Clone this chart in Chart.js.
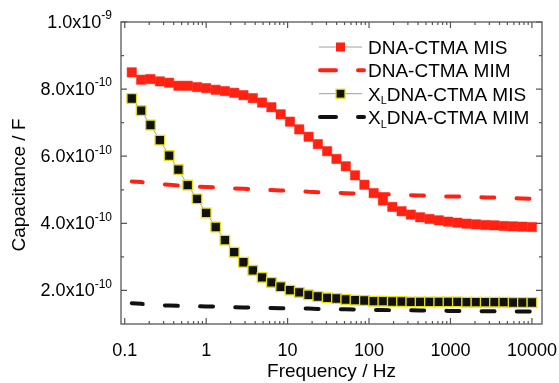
<!DOCTYPE html>
<html>
<head>
<meta charset="utf-8">
<script src="https://cdn.jsdelivr.net/npm/chart.js@4.4.1/dist/chart.umd.min.js"></script>
<style>
  html, body { margin: 0; padding: 0; background: #fff; }
  #wrap { width: 559px; height: 383px; }
</style>
</head>
<body>
<div id="wrap"><canvas id="chart" width="559" height="383"></canvas></div>
<script>
// measurement frequencies (Hz)
const freqs = [0.122, 0.159, 0.207, 0.270, 0.351, 0.456, 0.593, 0.772, 1.00, 1.31,
  1.70, 2.21, 2.87, 3.74, 4.86, 6.32, 8.22, 10.7, 13.9, 18.1,
  23.5, 30.6, 39.8, 51.8, 67.3, 87.7, 114, 148, 193, 251,
  326, 424, 552, 718, 933, 1214, 1579, 2054, 2672, 3475,
  4520, 5880, 7650, 10000];

// capacitance, in units of 1e-10 F
const dnaMis = [8.50, 8.28, 8.30, 8.23, 8.19, 8.10, 8.10, 8.06, 8.03, 7.98,
  7.94, 7.89, 7.82, 7.73, 7.60, 7.46, 7.25, 7.03, 6.80, 6.58,
  6.36, 6.15, 5.92, 5.70, 5.43, 5.15, 4.90, 4.68, 4.49, 4.36,
  4.26, 4.18, 4.13, 4.09, 4.05, 4.02, 3.99, 3.97, 3.95, 3.94,
  3.92, 3.91, 3.90, 3.89];
const dnaMim = [5.25, 5.23, 5.20, 5.17, 5.15, 5.13, 5.11, 5.09, 5.08, 5.07,
  5.05, 5.04, 5.03, 5.01, 5.00, 4.99, 4.98, 4.97, 4.96, 4.94,
  4.93, 4.92, 4.91, 4.90, 4.89, 4.89, 4.88, 4.87, 4.86, 4.85,
  4.84, 4.83, 4.82, 4.81, 4.80, 4.80, 4.79, 4.78, 4.77, 4.77,
  4.76, 4.75, 4.74, 4.73];
const xlMis = [7.72, 7.36, 6.93, 6.48, 6.02, 5.60, 5.14, 4.73, 4.31, 3.89,
  3.50, 3.14, 2.84, 2.60, 2.39, 2.24, 2.11, 2.01, 1.94, 1.87,
  1.82, 1.78, 1.76, 1.73, 1.71, 1.70, 1.68, 1.68, 1.67, 1.67,
  1.66, 1.66, 1.66, 1.66, 1.66, 1.66, 1.65, 1.65, 1.65, 1.65,
  1.65, 1.64, 1.64, 1.64];
const xlMim = [1.62, 1.60, 1.58, 1.56, 1.55, 1.54, 1.53, 1.53, 1.52, 1.52,
  1.51, 1.50, 1.49, 1.49, 1.48, 1.48, 1.47, 1.47, 1.46, 1.46,
  1.45, 1.45, 1.44, 1.44, 1.43, 1.43, 1.42, 1.42, 1.41, 1.41,
  1.41, 1.40, 1.40, 1.40, 1.39, 1.39, 1.39, 1.38, 1.38, 1.38,
  1.38, 1.37, 1.37, 1.37];

// axis ticks
const xTickValues = [0.1, 1, 10, 100, 1000, 10000];
const xTickLabels = ['0.1', '1', '10', '100', '1000', '10000'];
const yTickValues = [2e-10, 4e-10, 6e-10, 8e-10, 1e-9];
const yTickBase = ['2.0x10', '4.0x10', '6.0x10', '8.0x10', '1.0x10'];
const yTickExp = ['-10', '-10', '-10', '-10', '-9'];
const yMinorValues = [3e-10, 5e-10, 7e-10, 9e-10];

const RED = '#ff2212';
const BLACK = '#111111';
const YELLOW = '#e6df12';
const INK = '#000000';
const FONT = '"Liberation Sans", Arial, sans-serif';

const toPoints = vals => freqs.map((f, i) => ({ x: f, y: vals[i] * 1e-10 }));

// legend entries (custom drawn so the subscript L works)
const legendItems = [
  { parts: [['DNA-CTMA MIS', false]], kind: 'square', fill: RED, edge: RED },
  { parts: [['DNA-CTMA MIM', false]], kind: 'dash', color: RED },
  { parts: [['X', false], ['L', true], ['DNA-CTMA MIS', false]], kind: 'square', fill: BLACK, edge: YELLOW },
  { parts: [['X', false], ['L', true], ['DNA-CTMA MIM', false]], kind: 'dash', color: BLACK },
];

const decor = {
  id: 'decor',
  afterDraw(chart) {
    const { ctx, chartArea: a, scales: { x, y } } = chart;
    ctx.save();

    // frame
    ctx.strokeStyle = '#6e6e6e';
    ctx.lineWidth = 1.5;
    ctx.strokeRect(a.left, a.top, a.right - a.left, a.bottom - a.top);

    // inward tick marks on all four sides
    ctx.lineWidth = 1.2;
    ctx.strokeStyle = '#555';
    ctx.beginPath();
    const xMinor = [];
    for (let d = 0.1; d < 10000; d *= 10) {
      for (let m = 2; m <= 9; m++) xMinor.push(d * m);
    }
    xTickValues.forEach(v => {
      const px = x.getPixelForValue(v);
      ctx.moveTo(px, a.bottom); ctx.lineTo(px, a.bottom - 6);
      ctx.moveTo(px, a.top); ctx.lineTo(px, a.top + 6);
    });
    xMinor.forEach(v => {
      const px = x.getPixelForValue(v);
      ctx.moveTo(px, a.bottom); ctx.lineTo(px, a.bottom - 3);
      ctx.moveTo(px, a.top); ctx.lineTo(px, a.top + 3);
    });
    yTickValues.forEach(v => {
      const py = y.getPixelForValue(v);
      ctx.moveTo(a.left, py); ctx.lineTo(a.left + 6, py);
      ctx.moveTo(a.right, py); ctx.lineTo(a.right - 6, py);
    });
    yMinorValues.forEach(v => {
      const py = y.getPixelForValue(v);
      ctx.moveTo(a.left, py); ctx.lineTo(a.left + 3, py);
      ctx.moveTo(a.right, py); ctx.lineTo(a.right - 3, py);
    });
    ctx.stroke();

    // y tick labels with superscript exponents
    ctx.fillStyle = INK;
    const rightEdge = a.left - 9;
    yTickValues.forEach((v, i) => {
      const py = y.getPixelForValue(v);
      ctx.font = '12px ' + FONT;
      const supW = ctx.measureText(yTickExp[i]).width;
      ctx.textAlign = 'left';
      ctx.textBaseline = 'middle';
      ctx.fillText(yTickExp[i], rightEdge - supW, py - 6);
      ctx.font = '18px ' + FONT;
      ctx.textAlign = 'right';
      ctx.fillText(yTickBase[i], rightEdge - supW, py + 1);
    });

    // y axis title
    ctx.save();
    ctx.translate(20, 185);
    ctx.rotate(-Math.PI / 2);
    ctx.font = '19px ' + FONT;
    ctx.textAlign = 'center';
    ctx.textBaseline = 'middle';
    ctx.fillText('Capacitance / F', 0, 0);
    ctx.restore();

    // legend
    const rows = [47, 70.3, 93.7, 117];
    legendItems.forEach((it, i) => {
      const cy = rows[i];
      if (it.kind === 'square') {
        ctx.strokeStyle = '#a0a0a0';
        ctx.lineWidth = 1;
        ctx.beginPath();
        ctx.moveTo(319, cy); ctx.lineTo(362, cy);
        ctx.stroke();
        ctx.fillStyle = it.fill;
        ctx.fillRect(336, cy - 4.5, 9, 9);
        if (it.edge !== it.fill) {
          ctx.strokeStyle = it.edge;
          ctx.lineWidth = 1.3;
          ctx.strokeRect(336, cy - 4.5, 9, 9);
        }
      } else {
        ctx.strokeStyle = it.color;
        ctx.lineWidth = 4;
        ctx.lineCap = 'round';
        ctx.beginPath();
        ctx.moveTo(320, cy); ctx.lineTo(336, cy);
        ctx.moveTo(358, cy); ctx.lineTo(364, cy);
        ctx.stroke();
        ctx.lineCap = 'butt';
      }
      let tx = 368;
      ctx.fillStyle = INK;
      ctx.textAlign = 'left';
      ctx.textBaseline = 'alphabetic';
      it.parts.forEach(([t, sub]) => {
        ctx.font = (sub ? '11px ' : '19px ') + FONT;
        ctx.fillText(t, tx, sub ? cy + 10.5 : cy + 6.8);
        tx += ctx.measureText(t).width;
      });
    });

    ctx.restore();
  }
};

new Chart(document.getElementById('chart'), {
  type: 'line',
  data: {
    datasets: [
      {
        label: 'DNA-CTMA MIS',
        data: toPoints(dnaMis),
        borderColor: '#a0a0a0',
        borderWidth: 1,
        pointStyle: 'rect',
        pointRadius: 6.6,
        pointBackgroundColor: RED,
        pointBorderColor: RED,
        pointBorderWidth: 0.5,
      },
      {
        label: 'XL DNA-CTMA MIS',
        data: toPoints(xlMis),
        borderColor: '#a0a0a0',
        borderWidth: 1,
        pointStyle: 'rect',
        pointRadius: 6.8,
        pointBackgroundColor: BLACK,
        pointBorderColor: YELLOW,
        pointBorderWidth: 1.3,
      },
      {
        label: 'DNA-CTMA MIM',
        data: toPoints(dnaMim),
        borderColor: RED,
        borderWidth: 4,
        borderDash: [13, 22.2],
        borderDashOffset: 2,
        borderCapStyle: 'round',
        pointRadius: 0,
      },
      {
        label: 'XL DNA-CTMA MIM',
        data: toPoints(xlMim),
        borderColor: BLACK,
        borderWidth: 4,
        borderDash: [13, 22.2],
        borderDashOffset: 2,
        borderCapStyle: 'round',
        pointRadius: 0,
      },
    ],
  },
  options: {
    responsive: false,
    animation: false,
    devicePixelRatio: 1,
    layout: { padding: { top: 22, right: 17, left: 0, bottom: 0 } },
    plugins: { legend: { display: false }, tooltip: { enabled: false } },
    scales: {
      x: {
        type: 'logarithmic',
        min: 0.09,
        max: 13300,
        grid: { display: false },
        border: { display: false },
        afterBuildTicks: s => { s.ticks = xTickValues.map(v => ({ value: v })); },
        afterFit: s => { s.height = 59; s.paddingLeft = 0; s.paddingRight = 0; },
        ticks: {
          autoSkip: false,
          maxRotation: 0,
          padding: 8,
          color: INK,
          font: { family: FONT, size: 18 },
          callback: (v, i) => xTickLabels[i],
        },
        title: {
          display: true,
          text: 'Frequency / Hz',
          color: INK,
          font: { family: FONT, size: 19 },
          padding: { top: 0, bottom: 0 },
        },
      },
      y: {
        type: 'linear',
        min: 1e-10,
        max: 1e-9,
        grid: { display: false },
        border: { display: false },
        ticks: { display: false },
        afterFit: s => { s.width = 121; },
      },
    },
  },
  plugins: [decor],
});
</script>
</body>
</html>
